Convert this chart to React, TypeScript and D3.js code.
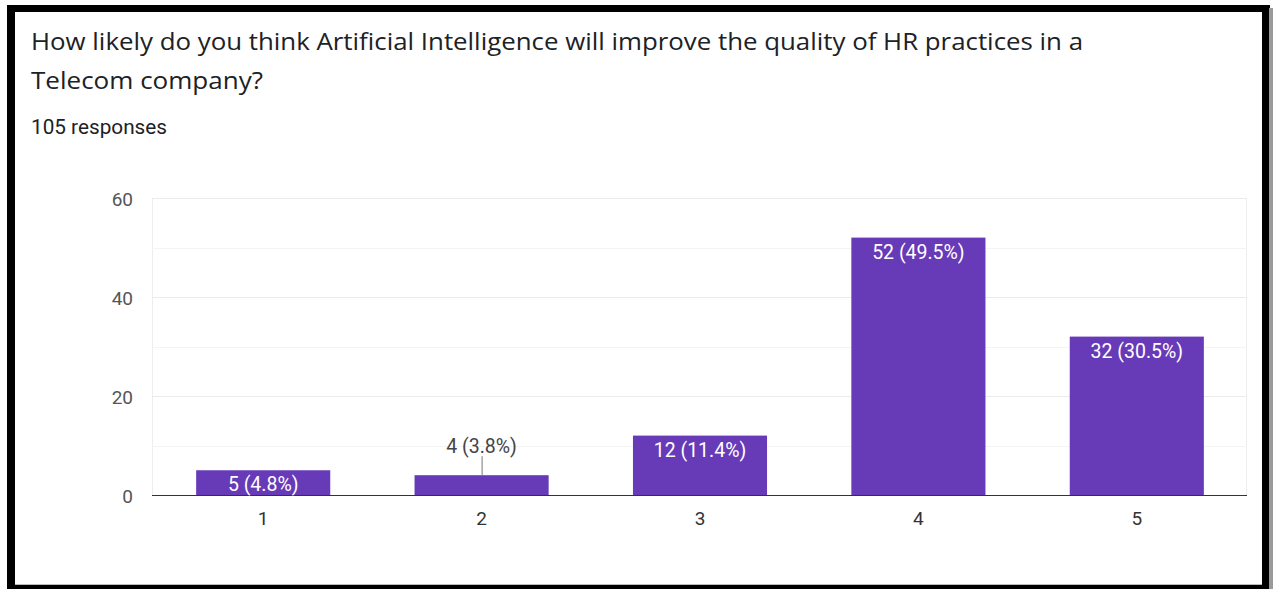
import React, { useEffect, useRef } from "react";
import { select, scaleBand, scaleLinear } from "d3";

const categories = ["1", "2", "3", "4", "5"];
const counts = [5, 4, 12, 52, 32];
const percents = ["4.8%", "3.8%", "11.4%", "49.5%", "30.5%"];
const yTicks = [0, 20, 40, 60];
const yMinor = [10, 30, 50];
const title1 = "How likely do you think Artificial Intelligence will improve the quality of HR practices in a";
const title2 = "Telecom company?";
const subtitle = "105 responses";

const W = 1273;
const H = 589;
const font = "Roboto, Arial, sans-serif";
const titleFont = "'Open Sans', Roboto, sans-serif";

const App = () => {
  const ref = useRef<SVGSVGElement>(null);

  useEffect(() => {
    const svg = select(ref.current);
    svg.selectAll("*").remove();

    // frame
    svg.append("rect").attr("x", 0).attr("y", 0).attr("width", W).attr("height", H).attr("fill", "#fff");
    svg.append("rect").attr("x", 7).attr("y", 5).attr("width", 1263).attr("height", 590).attr("fill", "#000");
    svg.append("rect").attr("x", 1269).attr("y", 8).attr("width", 4).attr("height", 590).attr("fill", "#9a9a9a");
    svg.append("rect").attr("x", 15).attr("y", 12).attr("width", 1247).attr("height", 573).attr("fill", "#fff");
    svg.append("line").attr("x1", 15).attr("x2", 1262).attr("y1", 584.5).attr("y2", 584.5).attr("stroke", "#bbb");

    // texts
    const txt = svg.append("g").attr("fill", "#202124");
    txt.append("text").attr("x", 31).attr("y", 50).attr("font-family", titleFont).attr("font-size", 24.5)
      .attr("textLength", 1052).attr("lengthAdjust", "spacingAndGlyphs").text(title1);
    txt.append("text").attr("x", 31).attr("y", 89).attr("font-family", titleFont).attr("font-size", 24.5)
      .attr("textLength", 232).attr("lengthAdjust", "spacingAndGlyphs").text(title2);
    txt.append("text").attr("x", 31).attr("y", 134).attr("font-family", font).attr("font-size", 20.5)
      .attr("textLength", 136).attr("lengthAdjust", "spacingAndGlyphs").text(subtitle);

    const x = scaleBand().domain(categories).range([154, 1246]).paddingInner(0.386).paddingOuter(0.193);
    const y = scaleLinear().domain([0, 60]).range([495, 198]);

    const g = svg.append("g");
    // plot border lines
    g.append("line").attr("x1", 152.5).attr("x2", 152.5).attr("y1", 198).attr("y2", 495).attr("stroke", "#eeeeee");
    g.append("line").attr("x1", 1246.5).attr("x2", 1246.5).attr("y1", 198).attr("y2", 495).attr("stroke", "#eeeeee");

    g.selectAll(".minor")
      .data(yMinor)
      .join("line")
      .attr("x1", 152)
      .attr("x2", 1247)
      .attr("y1", (d) => Math.round(y(d)) + 0.5)
      .attr("y2", (d) => Math.round(y(d)) + 0.5)
      .attr("stroke", "#f4f4f4");

    g.selectAll(".major")
      .data(yTicks.filter((d) => d > 0))
      .join("line")
      .attr("x1", 152)
      .attr("x2", 1247)
      .attr("y1", (d) => Math.round(y(d)) + 0.5)
      .attr("y2", (d) => Math.round(y(d)) + 0.5)
      .attr("stroke", "#ebebeb");

    g.selectAll(".ytick")
      .data(yTicks)
      .join("text")
      .attr("x", 133)
      .attr("y", (d) => y(d) + 7.5)
      .attr("text-anchor", "end")
      .attr("font-family", font)
      .attr("font-size", 19)
      .attr("fill", "#555")
      .text((d) => d);

    // bars
    g.selectAll(".bar")
      .data(counts)
      .join("rect")
      .attr("x", (_, i) => x(categories[i]) || 0)
      .attr("y", (d) => y(d))
      .attr("width", x.bandwidth())
      .attr("height", (d) => y(0) - y(d))
      .attr("fill", "#673ab7");

    // baseline
    g.append("line").attr("x1", 152).attr("x2", 1247).attr("y1", 495.5).attr("y2", 495.5).attr("stroke", "#333").attr("stroke-width", 1.2);

    // value labels
    counts.forEach((d, i) => {
      const cx = (x(categories[i]) || 0) + x.bandwidth() / 2;
      const label = `${d} (${percents[i]})`;
      const inside = y(0) - y(d) >= 22;
      if (inside) {
        g.append("text")
          .attr("x", cx)
          .attr("y", y(d) + 21)
          .attr("text-anchor", "middle")
          .attr("font-family", font)
          .attr("font-size", 19.5)
          .attr("fill", "#fff")
          .text(label);
      } else {
        g.append("line")
          .attr("x1", cx + 0.5)
          .attr("x2", cx + 0.5)
          .attr("y1", y(d))
          .attr("y2", y(d) - 19)
          .attr("stroke", "#777");
        g.append("text")
          .attr("x", cx)
          .attr("y", y(d) - 22)
          .attr("text-anchor", "middle")
          .attr("font-family", font)
          .attr("font-size", 19.5)
          .attr("fill", "#444")
          .text(label);
      }
    });

    // x labels
    g.selectAll(".xtick")
      .data(categories)
      .join("text")
      .attr("x", (d) => (x(d) || 0) + x.bandwidth() / 2)
      .attr("y", 525)
      .attr("text-anchor", "middle")
      .attr("font-family", font)
      .attr("font-size", 19)
      .attr("fill", "#333")
      .text((d) => d);
  }, []);

  return <svg ref={ref} width={W} height={H} style={{ position: "absolute", left: 0, top: 0 }} />;
};

export default App;
